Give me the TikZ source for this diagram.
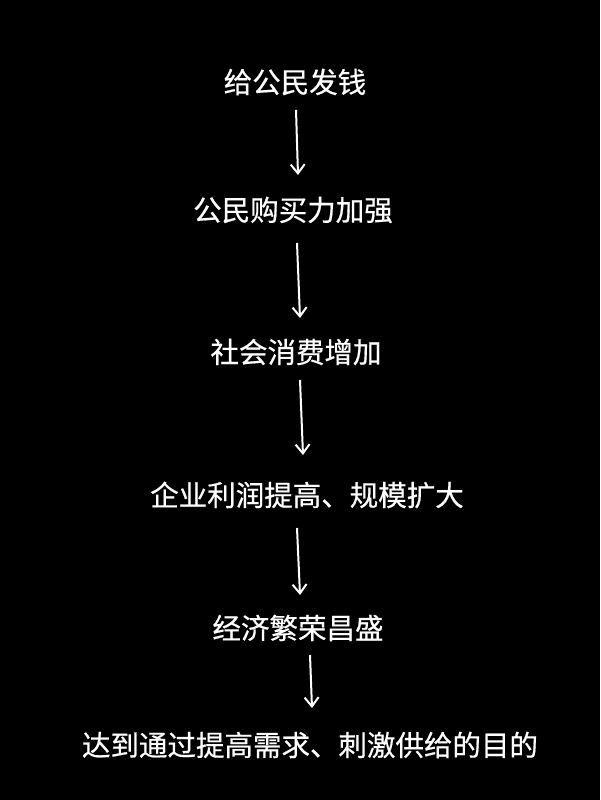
\documentclass[tikz,border=0pt]{standalone}
\usepackage{fontspec}
\newfontfamily\cjk[FakeBold=0.6]{Noto Sans CJK SC}
\usetikzlibrary{arrows.meta}
\begin{document}
\begin{tikzpicture}[x=1pt,y=1pt,
  lbl/.style={text=white,font=\cjk\fontsize{28.5}{32}\selectfont,inner sep=0pt},
  arr/.style={draw=white,line width=2pt,-{Straight Barb[length=9pt,width=14pt,line width=2pt]}}]
\fill[black] (0,0) rectangle (600,800);
\useasboundingbox (0,0) rectangle (600,800);
\node[lbl] (a) at (295,718) {给公民发钱};
\node[lbl] (b) at (293,590) {公民购买力加强};
\node[lbl] (c) at (296,448) {社会消费增加};
\node[lbl] (d) at (307,305) {企业利润提高、规模扩大};
\node[lbl] (e) at (298,172) {经济繁荣昌盛};
\node[lbl] (f) at (310,55) {达到通过提高需求、刺激供给的目的};
\coordinate (a1) at (296,690); \coordinate (a2) at (298,625);
\coordinate (b1) at (297,557); \coordinate (b2) at (300,482);
\coordinate (c1) at (300,420); \coordinate (c2) at (303,345);
\coordinate (d1) at (297,272); \coordinate (d2) at (300,205);
\coordinate (e1) at (310,145); \coordinate (e2) at (312,92);
\draw[arr] (a1) -- (a2);
\draw[arr] (b1) -- (b2);
\draw[arr] (c1) -- (c2);
\draw[arr] (d1) -- (d2);
\draw[arr] (e1) -- (e2);
\end{tikzpicture}
\end{document}
